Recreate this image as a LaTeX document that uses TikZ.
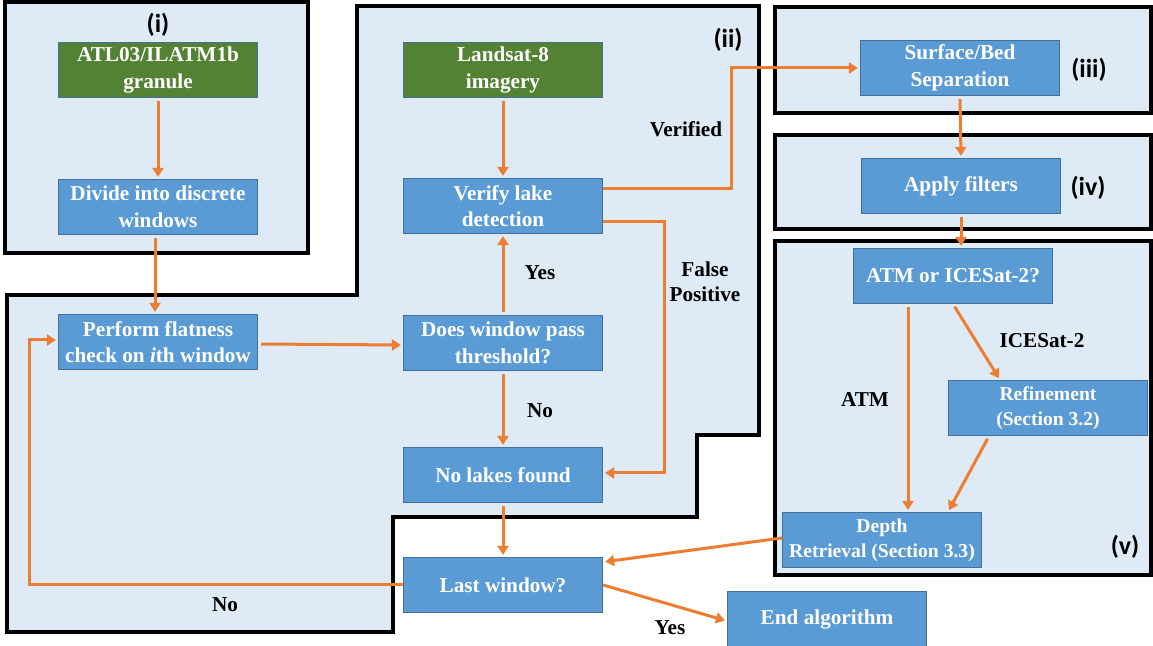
\documentclass[tikz,border=0pt]{standalone}
\usepackage{fontspec}
\setmainfont{Liberation Serif}
\newfontfamily\tnr{Liberation Serif}
\newfontfamily\calib{Carlito}
\usetikzlibrary{arrows.meta}
\definecolor{boxblue}{HTML}{5B9BD5}
\definecolor{boxedge}{HTML}{41719C}
\definecolor{boxgreen}{HTML}{548235}
\definecolor{panelfill}{HTML}{DEEAF6}
\definecolor{arr}{HTML}{ED7D31}
\begin{document}
\begin{tikzpicture}[x=0.5pt,y=-0.5pt,
  procbox/.style={draw=boxedge, line width=0.6pt, fill=boxblue, text=white,
    font=\tnr\fontsize{10.6}{13.3}\selectfont\bfseries, align=center,
    minimum width=99.5pt, minimum height=27.5pt, inner sep=1pt},
  databox/.style={procbox, fill=boxgreen},
  smalltext/.style={font=\tnr\fontsize{9.8}{12.5}\selectfont\bfseries},
  panelbox/.style={draw=black, line width=1.6pt, fill=panelfill},
  flow/.style={draw=arr, line width=1.5pt, -{Triangle[length=4.5pt,width=5.5pt]},
    shorten >=1pt, shorten <=1.5pt},
  lbl/.style={font=\tnr\fontsize{10.6}{12.5}\selectfont\bfseries, align=center},
  plabel/.style={font=\calib\fontsize{13}{15}\selectfont\bfseries}]
\useasboundingbox (0,0) rectangle (1153,646);
% panels
\path[panelbox] (5,2) rectangle (308,253);
\path[panelbox] (357,6) -- (759,6) -- (759,435) -- (697,435) -- (697,517) -- (393,517) -- (393,632) -- (7,632) -- (7,295) -- (357,295) -- cycle;
\path[panelbox] (775,7) rectangle (1151,113);
\path[panelbox] (775,135) rectangle (1151,229);
\path[panelbox] (775,241) rectangle (1151,575);
% panel labels
\node[plabel] (pi) at (158,25) {(i)};
\node[plabel] (pii) at (728,40) {(ii)};
\node[plabel] (piii) at (1089,70) {(iii)};
\node[plabel] (piv) at (1088,188) {(iv)};
\node[plabel] (pv) at (1125,547) {(v)};
% nodes
\node[databox] (atl) at (158,70) {ATL03/ILATM1b\\granule};
\node[procbox] (div) at (158,207) {Divide into discrete\\windows};
\node[procbox] (flat) at (158,342) {Perform flatness\\check on \textit{i}th window};
\node[databox] (land) at (503,70) {Landsat-8\\imagery};
\node[procbox] (ver) at (503,206) {Verify lake\\detection};
\node[procbox] (thr) at (503,343) {Does window pass\\threshold?};
\node[procbox] (nol) at (503,475) {No lakes found};
\node[procbox] (last) at (503,585) {Last window?};
\node[procbox] (end) at (827,619) {End algorithm};
\node[procbox] (sep) at (960,68) {Surface/Bed\\Separation};
\node[procbox] (filt) at (961,186) {Apply filters};
\node[procbox] (atm) at (953,276) {ATM or ICESat-2?};
\node[procbox, smalltext] (ref) at (1048,408) {Refinement\\(Section 3.2)};
\node[procbox, smalltext] (dep) at (882,540) {Depth\\Retrieval (Section 3.3)};
% connectors
\draw[flow] (atl.south) -- (div.north);
\draw[flow] ([xshift=-1.5pt]div.south) -- ([xshift=-1.5pt]flat.north);
\draw[flow] ([yshift=-1pt]flat.east) -- ([yshift=-1pt]thr.west);
\draw[flow] (land.south) -- (ver.north);
\draw[flow] (thr.north) -- (ver.south);
\draw[flow] (thr.south) -- (nol.north);
\draw[flow, shorten <=0pt] ([yshift=8.5pt]ver.east) -- ++(128,0) |- (sep.west);
\draw[flow, shorten <=0pt] ([yshift=-8pt]ver.east) -- ++(61,0) |- ([yshift=1pt]nol.east);
\draw[flow] (nol.south) -- (last.north);
\draw[flow, shorten <=0pt] ([yshift=1pt]dep.west) -- ([yshift=11.5pt]last.east);
\draw[flow, shorten <=0pt] (last.east) -- ([yshift=-1pt]end.west);
\draw[flow, shorten <=0pt] (last.west) -- ++(-373,0) |- ([yshift=1pt]flat.west);
\draw[flow] (sep.south) -- (filt.north);
\draw[flow] (filt.south) -- (filt.south |- atm.north);
\draw[flow] ([xshift=-22.5pt]atm.south) -- ([xshift=-22.5pt]atm.south |- dep.north);
\draw[flow] (atm.south) -- ([xshift=-24pt]ref.north);
\draw[flow] ([xshift=-29.5pt]ref.south) -- ([xshift=33pt]dep.north);
% labels
\node[lbl] (lyes) at (540,273) {Yes};
\node[lbl] (lno) at (540,411) {No};
\node[lbl] (lver) at (686,129) {Verified};
\node[lbl] (lfp) at (705,282) {False\\Positive};
\node[lbl] (latm) at (865,400) {ATM};
\node[lbl] (lice) at (1042,341) {ICESat-2};
\node[lbl] (lno2) at (225,605) {No};
\node[lbl] (lyes2) at (670,628) {Yes};
\end{tikzpicture}
\end{document}
